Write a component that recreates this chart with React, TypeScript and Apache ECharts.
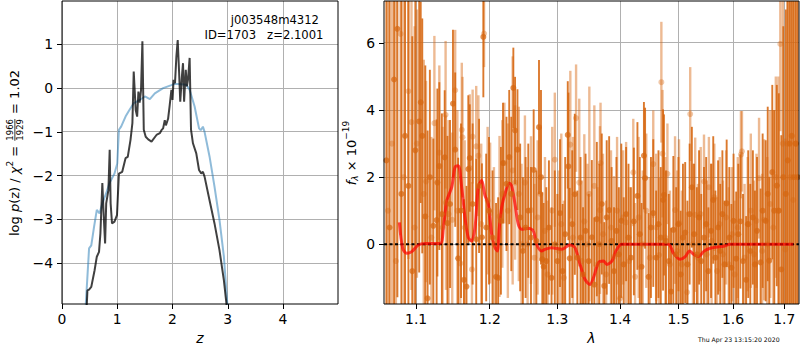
import React, { useEffect, useRef } from 'react';
import * as echarts from 'echarts';

// ---------- Left panel: redshift probability ----------
const zTicks = [0, 1, 2, 3, 4];
const logpTicks = [-4, -3, -2, -1, 0, 1];

const zPrior = [0.43, 0.49, 0.53, 0.58, 0.63, 0.68, 0.73, 0.80, 0.86, 0.95,
  1.00, 1.03, 1.07, 1.15, 1.22, 1.30, 1.41, 1.50, 1.59, 1.68,
  1.83, 1.98, 2.04, 2.15, 2.25, 2.31, 2.40, 2.48, 2.51, 2.55,
  2.58, 2.67, 2.76, 2.85, 2.93, 2.99, 3.02];
const logpPrior = [-4.95, -3.66, -3.59, -3.17, -2.78, -2.86, -2.63, -2.40, -2.17, -1.95,
  -1.72, -0.95, -0.88, -0.65, -0.50, -0.34, -0.27, -0.19, -0.25, -0.12,
  0.0, 0.07, 0.10, 0.09, 0.08, -0.04, -0.42, -0.92, -0.96, -0.88,
  -1.00, -1.56, -2.25, -3.01, -3.85, -4.91, -5.3];

const zFit = [0.44, 0.46, 0.49, 0.53, 0.59, 0.63, 0.67, 0.695, 0.73, 0.756,
  0.78, 0.80, 0.84, 0.863, 0.88, 0.905, 0.95, 0.995, 1.03, 1.09,
  1.15, 1.19, 1.24, 1.274, 1.298, 1.334, 1.36, 1.383, 1.405, 1.43,
  1.455, 1.48, 1.515, 1.56, 1.62, 1.71, 1.77, 1.80, 1.83, 1.86,
  1.88, 1.92, 1.95, 1.98, 2.00, 2.02, 2.045, 2.07, 2.094, 2.12,
  2.14, 2.17, 2.19, 2.21, 2.24, 2.26, 2.28, 2.31, 2.335, 2.37,
  2.43, 2.48, 2.52, 2.55, 2.58, 2.67, 2.76, 2.85, 2.93, 2.975, 3.0];
const logpFit = [-5.2, -4.62, -4.60, -4.54, -4.16, -3.85, -3.74, -3.32, -2.17, -2.94,
  -3.55, -2.63, -2.33, -1.41, -2.63, -3.09, -3.05, -2.90, -1.95, -1.91,
  -1.60, -1.57, -1.18, -0.80, 0.38, -0.50, -0.65, -0.08, -0.33, -0.05,
  1.07, -0.95, -1.11, -1.17, -1.22, -1.07, -1.03, -0.96, -0.92, -0.73,
  -0.85, -0.70, -0.38, -0.04, -0.27, 0.19, 0.11, 0.72, 1.10, 0.34,
  -0.31, 0.27, 0.57, -0.31, 0.42, 0.04, 0.19, 0.69, -0.95, -1.26,
  -1.49, -1.87, -1.95, -1.91, -2.02, -2.56, -3.09, -3.70, -4.39, -4.91, -5.3];

// ---------- Right panel: spectrum ----------
const lamTicks = [1.1, 1.2, 1.3, 1.4, 1.5, 1.6, 1.7];
const fluxTicks = [0, 2, 4, 6];

const waveA = [1.062, 1.066, 1.0717, 1.0759, 1.081, 1.0857, 1.090, 1.095, 1.099, 1.104,
  1.106, 1.108, 1.112, 1.115, 1.118, 1.1226, 1.127, 1.128, 1.1306, 1.134,
  1.1378, 1.1415, 1.145, 1.149, 1.152, 1.156, 1.160, 1.164, 1.1675, 1.170,
  1.172, 1.176, 1.181, 1.185, 1.189, 1.191, 1.195, 1.199, 1.204, 1.209,
  1.212, 1.216, 1.219, 1.224, 1.228, 1.231, 1.234, 1.2365, 1.240, 1.244,
  1.248, 1.252, 1.256, 1.260, 1.264, 1.268, 1.272, 1.275, 1.277, 1.279,
  1.283, 1.287, 1.291, 1.296, 1.300, 1.304, 1.308, 1.312, 1.316, 1.317,
  1.319, 1.323, 1.327, 1.331, 1.336, 1.340, 1.344, 1.349, 1.354, 1.358,
  1.362, 1.366, 1.370, 1.374, 1.378, 1.382, 1.386, 1.390, 1.394, 1.398,
  1.402, 1.406, 1.410, 1.414, 1.418, 1.423, 1.429, 1.433, 1.436, 1.440,
  1.442, 1.448, 1.452, 1.456, 1.461, 1.465, 1.469, 1.473, 1.4745, 1.478,
  1.483, 1.487, 1.491, 1.496, 1.500, 1.504, 1.508, 1.512, 1.516, 1.520,
  1.524, 1.528, 1.533, 1.537, 1.541, 1.546, 1.550, 1.554, 1.559, 1.563,
  1.567, 1.572, 1.576, 1.580, 1.584, 1.588, 1.593, 1.597, 1.601, 1.606,
  1.610, 1.614, 1.619, 1.625, 1.629, 1.633, 1.638, 1.642, 1.646, 1.653,
  1.657, 1.663, 1.667, 1.670, 1.676, 1.680, 1.685, 1.689, 1.694, 1.698,
  1.703, 1.707, 1.711, 1.715, 1.719, 1.723, 1.727];
const fluxA = [2.5, 0.5, 4.91, 6.42, 1.5, 3.23, 1.74, -0.8, 2.8, 3.66,
  4.23, 3.23, 0.83, -1.61, 2.0, 0.55, 0.72, 1.84, 2.33, 0.9,
  2.59, 0.63, 1.2, 4.19, 2.82, -0.42, 1.0, -1.06, -1.26, 2.24,
  2.57, 1.20, 0.15, 1.74, 0.21, 6.18, 0.5, 1.0, 0.2, -0.97,
  -1.0, 0.7, 2.42, 1.8, 2.6, 1.5, 4.66, 3.39, 2.82, 0.8,
  -0.2, 0.5, 1.0, 0.2, 2.22, 0.1, 3.49, 2.0, -0.45, -0.67,
  -0.5, 0.5, -1.0, 0.0, -0.5, 0.93, -0.8, 0.3, 3.26, 2.32,
  -0.42, 0.6, 1.49, -0.4, 0.2, -0.9, 0.4, -0.5, 0.21, -1.2,
  0.75, 0.0, 1.2, -1.24, 0.8, 1.02, 0.1, -0.8, 0.4, -0.3,
  0.7, -0.6, 0.9, 0.2, -0.4, 0.68, 1.44, 0.3, -0.67, 2.64,
  1.97, -0.97, 0.5, 0.93, -0.4, 0.6, 0.2, 1.32, 1.47, 0.1,
  -0.5, -1.41, 0.43, -0.3, 0.6, -0.9, 0.2, 0.35, -0.6, 0.9,
  1.70, 0.3, -0.3, 0.8, -0.5, 0.2, 0.6, -0.8, 0.4, 1.32,
  -0.4, 0.5, -0.2, 0.9, -0.6, 1.22, 0.2, -0.7, 0.7, -0.43,
  0.3, 0.68, -0.5, -1.06, 0.6, -0.2, 0.8, -0.6, 0.4, -0.54,
  1.0, 0.70, 1.5, -0.49, 2.15, 1.0, 1.75, 1.0, -0.75, 2.0,
  1.5, 2.5, 3.0, 3.23, 2.0, 3.0, 2.0];
const errA = [9, 8, 7, 8, 7, 7, 6.5, 7, 6, 4.5,
  3.0, 3.5, 4.5, 5, 3.2, 2.6, 3.0, 2.8, 2.5, 3.0,
  2.0, 2.6, 2.5, 2.2, 2.3, 3.0, 2.6, 2.4, 3.0, 2.2,
  1.6, 2.4, 2.4, 2.0, 2.2, 1.8, 2.2, 2.2, 2.0, 2.2,
  2.4, 2.2, 1.8, 2.0, 2.0, 2.3, 1.2, 1.6, 1.8, 2.2,
  2.2, 2.1, 2.0, 2.1, 1.8, 2.1, 2.0, 2.6, 2.0, 1.9,
  2.2, 2.0, 2.1, 2.2, 2.0, 2.2, 2.0, 2.3, 1.6, 2.2,
  2.1, 2.2, 2.4, 2.0, 2.4, 2.0, 2.3, 2.0, 2.3, 2.0,
  2.3, 2.4, 2.1, 1.9, 2.3, 2.2, 2.2, 1.9, 2.2, 2.0,
  2.3, 2.0, 2.0, 2.2, 2.1, 2.2, 2.2, 2.3, 1.9, 1.6,
  2.1, 1.9, 2.1, 2.2, 2.0, 2.2, 2.1, 2.7, 2.4, 2.1,
  2.0, 1.9, 2.2, 2.0, 2.0, 1.9, 2.2, 2.1, 1.9, 2.1,
  1.8, 2.1, 2.0, 2.0, 2.0, 2.1, 2.0, 1.9, 2.0, 1.9,
  2.0, 2.0, 2.0, 1.9, 1.9, 1.9, 2.1, 1.9, 2.0, 2.0,
  2.1, 2.0, 2.0, 1.9, 2.2, 2.0, 2.0, 2.2, 2.2, 2.2,
  2.3, 2.4, 2.6, 2.5, 2.6, 3.0, 3.0, 3.5, 4.0, 4.5,
  5.5, 6, 5, 5, 7, 8, 9];

const waveB = [1.064, 1.069, 1.074, 1.080, 1.084, 1.090, 1.094, 1.098, 1.101, 1.110,
  1.113, 1.120, 1.124, 1.1306, 1.135, 1.139, 1.1395, 1.143, 1.148, 1.152,
  1.155, 1.159, 1.161, 1.162, 1.165, 1.172, 1.175, 1.176, 1.181, 1.184,
  1.188, 1.192, 1.197, 1.2006, 1.206, 1.214, 1.218, 1.221, 1.226, 1.233,
  1.2366, 1.242, 1.246, 1.251, 1.255, 1.260, 1.265, 1.270, 1.274, 1.281,
  1.285, 1.292, 1.296, 1.302, 1.306, 1.310, 1.320, 1.324, 1.329, 1.334,
  1.338, 1.342, 1.347, 1.350, 1.358, 1.363, 1.367, 1.368, 1.372, 1.377,
  1.385, 1.390, 1.395, 1.400, 1.405, 1.410, 1.415, 1.422, 1.425, 1.431,
  1.438, 1.444, 1.450, 1.456, 1.461, 1.466, 1.470, 1.472, 1.477, 1.4806,
  1.485, 1.494, 1.498, 1.501, 1.506, 1.5155, 1.521, 1.526, 1.530, 1.535,
  1.540, 1.546, 1.551, 1.555, 1.560, 1.565, 1.570, 1.575, 1.581, 1.587,
  1.592, 1.598, 1.603, 1.609, 1.615, 1.617, 1.622, 1.628, 1.634, 1.640,
  1.645, 1.650, 1.656, 1.660, 1.666, 1.672, 1.678, 1.683, 1.688, 1.692,
  1.697, 1.702, 1.706, 1.712, 1.718, 1.724];
const fluxB = [1.0, 3.0, -0.5, 6.27, 2.0, 4.56, 3.64, 0.5, 3.0, 1.5,
  1.87, 0.2, 3.61, 2.73, 0.5, 3.86, 1.24, 0.9, 0.73, 4.59,
  1.0, -0.57, 3.41, 3.19, 0.5, 2.27, -0.75, 3.21, 2.92, 2.64,
  0.6, 6.28, 1.3, 0.93, 0.0, 0.83, 1.5, 2.42, 1.0, 2.2,
  1.84, 1.5, 0.0, 1.84, 0.0, 1.02, -0.4, 0.8, 1.5, 0.4,
  -0.9, 1.0, 2.52, -0.2, 0.6, -1.0, 2.97, 0.2, 3.76, 1.84,
  -0.5, 0.68, 0.0, 1.5, 1.74, -0.6, 1.02, 2.42, 0.3, -0.9,
  0.5, -0.37, 1.0, -1.61, 0.8, 0.65, -0.5, 2.14, -0.97, 0.8,
  0.0, 1.0, -0.4, 2.39, 0.5, -0.32, 4.83, 2.70, 0.2, 2.10,
  -0.6, 1.02, -0.2, 0.63, -0.6, -1.43, 3.88, 0.0, 0.88, -0.4,
  0.9, 1.87, -0.3, 1.70, 0.1, 1.4, -0.8, 0.6, -0.3, 0.8,
  -0.6, 0.3, -0.9, 0.5, 2.67, 2.77, -0.4, 0.6, 1.00, -0.3,
  0.7, 1.97, -0.2, 0.73, 0.0, 1.2, 0.5, 2.0, 1.0, 5.97,
  3.0, -0.15, 3.0, 2.0, 1.32, 3.0];
const errB = [8, 7, 8, 6, 6, 5, 5, 6, 4, 4,
  3.0, 3.0, 2.6, 2.6, 3.0, 2.2, 2.6, 2.8, 2.6, 1.8,
  3.0, 2.6, 2.0, 1.8, 2.6, 2.2, 2.6, 1.4, 1.8, 1.8,
  2.4, 1.0, 2.2, 2.1, 2.3, 2.4, 2.2, 1.8, 2.6, 3.4,
  2.3, 2.6, 2.4, 2.0, 2.3, 2.2, 2.2, 2.3, 2.0, 2.2,
  2.2, 2.5, 2.0, 2.4, 2.7, 2.3, 2.2, 3.0, 1.6, 2.5,
  2.4, 2.6, 2.4, 3.2, 2.4, 2.3, 2.5, 1.8, 2.4, 2.2,
  2.3, 2.4, 2.2, 2.2, 2.0, 2.4, 2.2, 1.6, 2.2, 2.4,
  2.2, 2.3, 2.4, 1.6, 2.2, 2.3, 1.8, 1.9, 2.4, 1.5,
  2.2, 2.2, 2.4, 2.5, 2.2, 2.4, 1.4, 2.4, 2.3, 2.2,
  2.0, 1.4, 2.2, 1.5, 2.3, 1.6, 2.2, 2.0, 2.2, 2.0,
  2.3, 2.0, 2.2, 2.1, 1.3, 1.2, 2.2, 2.0, 2.3, 2.2,
  2.0, 1.8, 2.3, 2.4, 2.6, 2.8, 3.5, 3.0, 4.0, 2.6,
  5.0, 3.3, 5.0, 6, 8, 8];

const modelWave = [1.0784, 1.0827, 1.0879, 1.0943, 1.1029, 1.1118, 1.1315, 1.1361, 1.1406, 1.1473,
  1.1518, 1.1563, 1.1609, 1.1654, 1.1700, 1.1746, 1.1793, 1.1839, 1.1886, 1.1933,
  1.1980, 1.2028, 1.2075, 1.2108, 1.2137, 1.2171, 1.2218, 1.2281, 1.2315, 1.2364,
  1.2412, 1.2461, 1.2559, 1.2634, 1.2684, 1.2759, 1.2809, 1.2910, 1.3064, 1.3194,
  1.3273, 1.3353, 1.3432, 1.3512, 1.3566, 1.3647, 1.3728, 1.3782, 1.3864, 1.3946,
  1.4029, 1.4823, 1.4912, 1.5032, 1.5121, 1.5198, 1.5272, 1.5361, 1.5451, 1.5574,
  1.5819, 1.5944, 1.7183];
const modelFlux = [0.65, -0.12, -0.27, -0.22, -0.02, 0.02, 0.02, 0.5, 1.3, 1.70,
  2.3, 2.34, 1.7, 0.8, 0.2, 0.1, 0.5, 1.7, 1.9, 1.45,
  1.2, 0.3, -0.1, -0.2, 0.5, 1.1, 1.5, 1.82, 1.75, 1.2,
  0.6, 0.45, 0.48, 0.4, 0.0, -0.2, -0.15, -0.1, -0.15, -0.02,
  -0.1, -0.6, -1.05, -1.2, -1.0, -0.55, -0.5, -0.6, -0.5, -0.15,
  0.0, 0.0, -0.27, -0.45, -0.37, -0.2, -0.3, -0.37, -0.22, -0.12,
  -0.06, 0.0, 0.0];

// axis limits
const Z_MIN = 0, Z_MAX = 4.995, LP_MIN = -4.93, LP_MAX = 1.99;
const LAM_MIN = 1.059, LAM_MAX = 1.7298, F_MIN = -1.78, F_MAX = 7.25;

// plot-area layout
const GRID_L = { left: 62, top: 1, width: 276, height: 303 };
const GRID_R = { left: 384, top: 1, width: 415, height: 303 };

const FONT = 'DejaVu Sans';
const ORANGE = '214,102,16';
const GRID_COLOR = '#b0b0b0';

const fmtMinus = (v: number) => (v < 0 ? '\u2212' + Math.abs(Math.round(v)) : String(Math.round(v)));

type Piece = { t?: string; num?: string; den?: string; size: number; it?: boolean; dy?: number };

function rotatedLabel(pieces: Piece[], cx: number, cy: number) {
  const ctx = document.createElement('canvas').getContext('2d') as CanvasRenderingContext2D;
  const w = (t: string, size: number, it?: boolean) => {
    ctx.font = `${it ? 'italic ' : ''}${size}px "${FONT}"`;
    return ctx.measureText(t).width;
  };
  const widths = pieces.map(p => (p.t !== undefined ? w(p.t, p.size, p.it)
    : Math.max(w(p.num as string, p.size), w(p.den as string, p.size)) + 2));
  const total = widths.reduce((a, b) => a + b, 0);
  let cur = -total / 2;
  const children: any[] = [];
  const txt = (x: number, y: number, text: string, size: number, it: boolean, align: string) => ({
    type: 'text', x, y,
    style: {
      text, fontSize: size, fontFamily: FONT, fontStyle: it ? 'italic' : 'normal', fill: '#000',
      align, verticalAlign: 'middle', textAlign: align, textVerticalAlign: 'middle',
    },
  });
  pieces.forEach((p, i) => {
    if (p.t !== undefined) {
      children.push(txt(cur, p.dy || 0, p.t, p.size, !!p.it, 'left'));
    } else {
      const mid = cur + widths[i] / 2;
      children.push(txt(mid, -4.6, p.num as string, p.size, false, 'center'));
      children.push(txt(mid, 5.4, p.den as string, p.size, false, 'center'));
      children.push({
        type: 'rect',
        shape: { x: cur + 1, y: 0, width: widths[i] - 2, height: 0.8 },
        style: { fill: '#000' },
      });
    }
    cur += widths[i];
  });
  return { type: 'group', x: cx, y: cy, rotation: Math.PI / 2, children };
}

function errSeries(wave: number[], flux: number[], err: number[], alpha: number, width: number) {
  return {
    type: 'custom',
    xAxisIndex: 1,
    yAxisIndex: 1,
    silent: true,
    z: 2,
    data: wave.map((wl, i) => [Math.log(wl), flux[i], err[i]]),
    encode: { x: 0, y: 1 },
    renderItem: (_params: any, api: any) => {
      const x = api.value(0);
      const y = api.value(1);
      const e = api.value(2);
      const lo = Math.max(y - e, F_MIN);
      const hi = Math.min(y + e, F_MAX);
      if (hi <= lo) return null;
      const a = api.coord([x, lo]);
      const b = api.coord([x, hi]);
      return {
        type: 'line',
        shape: { x1: a[0], y1: a[1], x2: b[0], y2: b[1] },
        style: { stroke: `rgba(${ORANGE},${alpha})`, lineWidth: width },
      };
    },
  };
}

function dotSeries(wave: number[], flux: number[], alpha: number) {
  return {
    type: 'scatter',
    xAxisIndex: 1,
    yAxisIndex: 1,
    silent: true,
    z: 2,
    symbol: 'circle',
    symbolSize: 6,
    clip: true,
    data: wave.map((wl, i) => [Math.log(wl), flux[i]]),
    itemStyle: { color: `rgba(${ORANGE},${alpha})` },
  };
}

export default function App() {
  const ref = useRef<HTMLDivElement>(null);

  useEffect(() => {
    if (!ref.current) return;
    const chart = echarts.init(ref.current, undefined, { renderer: 'svg' });

    const tickLabel = { fontFamily: FONT, fontSize: 13.9, color: '#000' };
    const axisTick = (vals: number[]) => ({
      show: true, inside: false, length: 5, customValues: vals,
      lineStyle: { color: '#000', width: 1 },
    });
    const axisLine = { show: false, onZero: false };

    const lamLog = lamTicks.map(v => Math.log(v));
    const xL0 = Math.log(LAM_MIN);
    const xL1 = Math.log(LAM_MAX);

    const gridBase = { show: true, borderColor: '#000', borderWidth: 1, backgroundColor: 'rgba(0,0,0,0)', containLabel: false, outerBoundsMode: 'none', z: 3 };

    const option: any = {
      animation: false,
      backgroundColor: '#fff',
      grid: [
        { ...GRID_L, ...gridBase },
        { ...GRID_R, ...gridBase },
      ],
      xAxis: [
        {
          type: 'value', gridIndex: 0, min: Z_MIN, max: Z_MAX,
          axisLine,
          axisTick: axisTick(zTicks),
          axisLabel: { ...tickLabel, margin: 8, customValues: zTicks, formatter: fmtMinus },
          splitLine: { show: false },
          name: 'z', nameLocation: 'middle', nameGap: 27,
          nameTextStyle: { fontFamily: FONT, fontSize: 14, fontStyle: 'italic', color: '#000' },
        },
        {
          type: 'value', gridIndex: 1, min: xL0, max: xL1,
          axisLine,
          axisTick: axisTick(lamLog),
          axisLabel: { ...tickLabel, margin: 8, customValues: lamLog, formatter: (v: number) => Math.exp(v).toFixed(1) },
          splitLine: { show: false },
          name: 'λ', nameLocation: 'middle', nameGap: 27,
          nameTextStyle: { fontFamily: FONT, fontSize: 14, fontStyle: 'italic', color: '#000' },
        },
      ],
      yAxis: [
        {
          type: 'value', gridIndex: 0, min: LP_MIN, max: LP_MAX,
          axisLine,
          axisTick: axisTick(logpTicks),
          axisLabel: { ...tickLabel, margin: 9, customValues: logpTicks, formatter: fmtMinus },
          splitLine: { show: false },
        },
        {
          type: 'value', gridIndex: 1, min: F_MIN, max: F_MAX,
          axisLine,
          axisTick: axisTick(fluxTicks),
          axisLabel: { ...tickLabel, margin: 9, customValues: fluxTicks, formatter: fmtMinus },
          splitLine: { show: false },
        },
      ],
      series: [
        {
          type: 'line', xAxisIndex: 0, yAxisIndex: 0, silent: true, z: 2,
          showSymbol: false, symbol: 'none', clip: true,
          data: zPrior.map((z, i) => [z, logpPrior[i]]),
          lineStyle: { color: '#1f77b4', opacity: 0.5, width: 2 },
        },
        {
          type: 'line', xAxisIndex: 0, yAxisIndex: 0, silent: true, z: 2,
          showSymbol: false, symbol: 'none', clip: true,
          data: zFit.map((z, i) => [z, logpFit[i]]),
          lineStyle: { color: '#000', opacity: 0.75, width: 2 },
        },
        errSeries(waveA, fluxA, errA, 0.88, 1.9),
        dotSeries(waveA, fluxA, 0.9),
        errSeries(waveB, fluxB, errB, 0.45, 2.4),
        dotSeries(waveB, fluxB, 0.45),
        {
          type: 'line', xAxisIndex: 1, yAxisIndex: 1, silent: true, z: 2,
          showSymbol: false, symbol: 'none',
          data: [[xL0, 0], [xL1, 0]],
          lineStyle: { color: '#000', width: 2, type: [3, 2.5] },
        },
        {
          type: 'line', xAxisIndex: 1, yAxisIndex: 1, silent: true, z: 2,
          showSymbol: false, symbol: 'none', smooth: 0.3, clip: true,
          data: modelWave.map((wl, i) => [Math.log(wl), modelFlux[i]]),
          lineStyle: { color: 'rgba(255,0,0,0.7)', width: 3 },
        },
      ],
    };

    chart.setOption(option);

    // gridlines: positions through each axis's own scale, extents from the plot-area layout
    const gridEls: any[] = [];
    const addGrid = (ai: number, box: { left: number; top: number; width: number; height: number }, xVals: number[], yVals: number[]) => {
      const px = (v: number) => Number(chart.convertToPixel({ xAxisIndex: ai }, v));
      const py = (v: number) => Number(chart.convertToPixel({ yAxisIndex: ai }, v));
      xVals.forEach(v => {
        const x = Math.floor(px(v));
        if (!isFinite(x)) return;
        gridEls.push({
          type: 'rect', silent: true, z: 1,
          shape: { x, y: box.top, width: 1, height: box.height },
          style: { fill: GRID_COLOR },
        });
      });
      yVals.forEach(v => {
        const y = Math.floor(py(v));
        if (!isFinite(y)) return;
        gridEls.push({
          type: 'rect', silent: true, z: 1,
          shape: { x: box.left, y, width: box.width, height: 1 },
          style: { fill: GRID_COLOR },
        });
      });
    };
    addGrid(0, GRID_L, zTicks, logpTicks);
    addGrid(1, GRID_R, lamLog, fluxTicks);

    chart.setOption({
      graphic: [
        ...gridEls,
        rotatedLabel([
          { t: 'log ', size: 13 },
          { t: 'p', size: 13, it: true },
          { t: '(z) / ', size: 13 },
          { t: 'χ', size: 13, it: true },
          { t: '2', size: 9, dy: -5 },
          { t: ' = ', size: 13 },
          { num: '1966', den: '1929', size: 8.5 },
          { t: ' = 1.02', size: 13 },
        ], 14.5, 153),
        rotatedLabel([
          { t: 'f', size: 13, it: true },
          { t: 'λ', size: 9, it: true, dy: 3.5 },
          { t: ' × 10', size: 13 },
          { t: '−19', size: 9, dy: -5 },
        ], 351, 153),
        {
          type: 'text', x: 319, y: 19.5, z: 10,
          style: { text: 'j003548m4312', fontSize: 11.6, fontFamily: FONT, fill: '#000', align: 'right', verticalAlign: 'middle', textAlign: 'right', textVerticalAlign: 'middle' },
        },
        {
          type: 'text', x: 323.5, y: 34.5, z: 10,
          style: { text: 'ID=1703   z=2.1001', fontSize: 11.6, fontFamily: FONT, fill: '#000', align: 'right', verticalAlign: 'middle', textAlign: 'right', textVerticalAlign: 'middle' },
        },
        {
          type: 'text', x: 698, y: 339,
          style: { text: 'Thu Apr 23 13:15:20 2020', fontSize: 6.2, fontFamily: FONT, fill: '#000', align: 'left', verticalAlign: 'middle', textAlign: 'left', textVerticalAlign: 'middle' },
        },
      ],
    });

    return () => chart.dispose();
  }, []);

  return (
    <div
      ref={ref}
      style={{ position: 'fixed', left: 0, top: 0, width: 800, height: 350, background: '#fff' }}
    />
  );
}
